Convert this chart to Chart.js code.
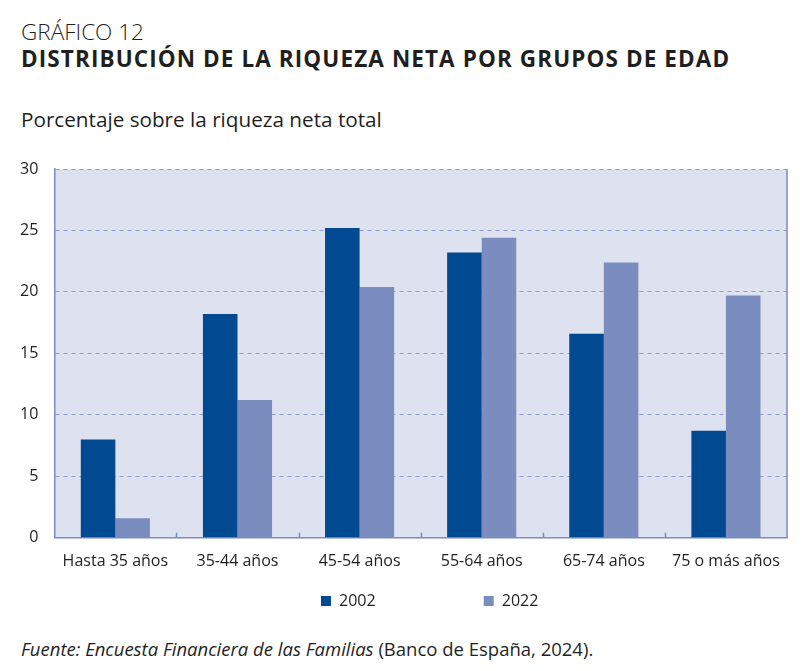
<!DOCTYPE html>
<html lang="es">
<head>
  <meta charset="UTF-8" />
  <title>Gráfico 12</title>
  <script src="https://cdn.jsdelivr.net/npm/chart.js"></script>
  <style>
    * { box-sizing: border-box; margin: 0; padding: 0; }
    body { width: 807px; height: 671px; background: #fff; font-family: 'Open Sans', sans-serif; color: #1f1f1f; position: relative; overflow: hidden; }
    .num { position: absolute; left: 21px; top: 16px; font-size: 22.5px; font-weight: 300; }
    .tit { position: absolute; left: 21px; top: 43px; font-size: 22.5px; font-weight: 700; letter-spacing: 1.1px; white-space: nowrap; }
    .sub { position: absolute; left: 21px; top: 105px; font-size: 20.7px; }
    .box { position: absolute; left: 0; top: 150px; width: 807px; height: 480px; }
    .src { position: absolute; left: 21px; top: 636px; font-size: 18.5px; white-space: nowrap; }
  </style>
</head>
<body>
  <div class="num">GRÁFICO 12</div>
  <div class="tit">DISTRIBUCIÓN DE LA RIQUEZA NETA POR GRUPOS DE EDAD</div>
  <div class="sub">Porcentaje sobre la riqueza neta total</div>
  <div class="box"><canvas id="chart"></canvas></div>
  <div class="src"><i>Fuente: Encuesta Financiera de las Familias</i> (Banco de España, 2024).</div>

  <script>
    const grupos = ["Hasta 35 años", "35-44 años", "45-54 años", "55-64 años", "65-74 años", "75 o más años"];
    const anio2002 = [8.0, 18.2, 25.2, 23.2, 16.6, 8.7];
    const anio2022 = [1.6, 11.2, 20.4, 24.4, 22.4, 19.7];
    const ticksY = [0, 5, 10, 15, 20, 25, 30];

    // fondo del area, borde derecho y marcas entre grupos
    const marco = {
      id: "marco",
      afterUpdate(chart) {
        // la leyenda del original esta algo desplazada a la derecha
        chart.legend.left += 9;
        chart.legend.right += 9;
      },
      beforeDraw(chart) {
        const { ctx, chartArea: a } = chart;
        ctx.save();
        ctx.fillStyle = "#dee1f0";
        ctx.fillRect(a.left, a.top, a.right - a.left, a.bottom - a.top);
        ctx.restore();
      },
      afterDatasetsDraw(chart) {
        const { ctx, chartArea: a, scales } = chart;
        const x = scales.x;
        ctx.save();
        ctx.strokeStyle = "#7b8cc0";
        ctx.lineWidth = 1.5;
        ctx.beginPath();
        ctx.moveTo(a.right, a.top);
        ctx.lineTo(a.right, a.bottom);
        for (let i = 1; i < grupos.length; i++) {
          const px = Math.round((x.getPixelForValue(i - 1) + x.getPixelForValue(i)) / 2) + 0.5;
          ctx.moveTo(px, a.bottom);
          ctx.lineTo(px, a.bottom - 5);
        }
        ctx.stroke();
        ctx.restore();
      }
    };

    new Chart(document.getElementById("chart"), {
      type: "bar",
      data: {
        labels: grupos,
        datasets: [
          { label: "2002", data: anio2002, backgroundColor: "#014a92" },
          { label: "2022", data: anio2022, backgroundColor: "#7b8cbf" }
        ]
      },
      options: {
        responsive: true,
        maintainAspectRatio: false,
        animation: false,
        layout: { autoPadding: false, padding: { left: 20, right: 20, top: 19, bottom: 11 } },
        datasets: { bar: { categoryPercentage: 0.566, barPercentage: 1, borderWidth: 0 } },
        scales: {
          x: {
            grid: { display: false, drawTicks: false },
            border: { display: true, color: "#7b8cc0", width: 1.5 },
            ticks: { padding: 14, color: "#1f1f1f", maxRotation: 0, autoSkip: false, font: { family: "'Open Sans'", size: 16 } }
          },
          y: {
            min: 0,
            max: 30,
            afterBuildTicks(scale) { scale.ticks = ticksY.map(v => ({ value: v })); },
            grid: { color: "#8e9acc", lineWidth: 1, drawTicks: true, tickLength: 16, tickColor: "rgba(0,0,0,0)" },
            border: { display: true, color: "#7b8cc0", width: 1.5, dash: [4, 4] },
            ticks: { padding: 0, color: "#1f1f1f", font: { family: "'Open Sans'", size: 16 } }
          }
        },
        plugins: {
          legend: {
            position: "bottom",
            fullSize: false,
            labels: {
              boxWidth: 10,
              boxHeight: 10,
              padding: 8,
              color: "#1f1f1f",
              font: { family: "'Open Sans'", size: 16 },
              generateLabels(chart) {
                const items = Chart.defaults.plugins.legend.labels.generateLabels(chart);
                // separa los dos elementos de la leyenda como en el original
                items[0].text = items[0].text + "\u2003".repeat(6) + " ";
                return items;
              }
            }
          },
          tooltip: { enabled: false }
        }
      },
      plugins: [marco]
    });
  </script>
</body>
</html>
